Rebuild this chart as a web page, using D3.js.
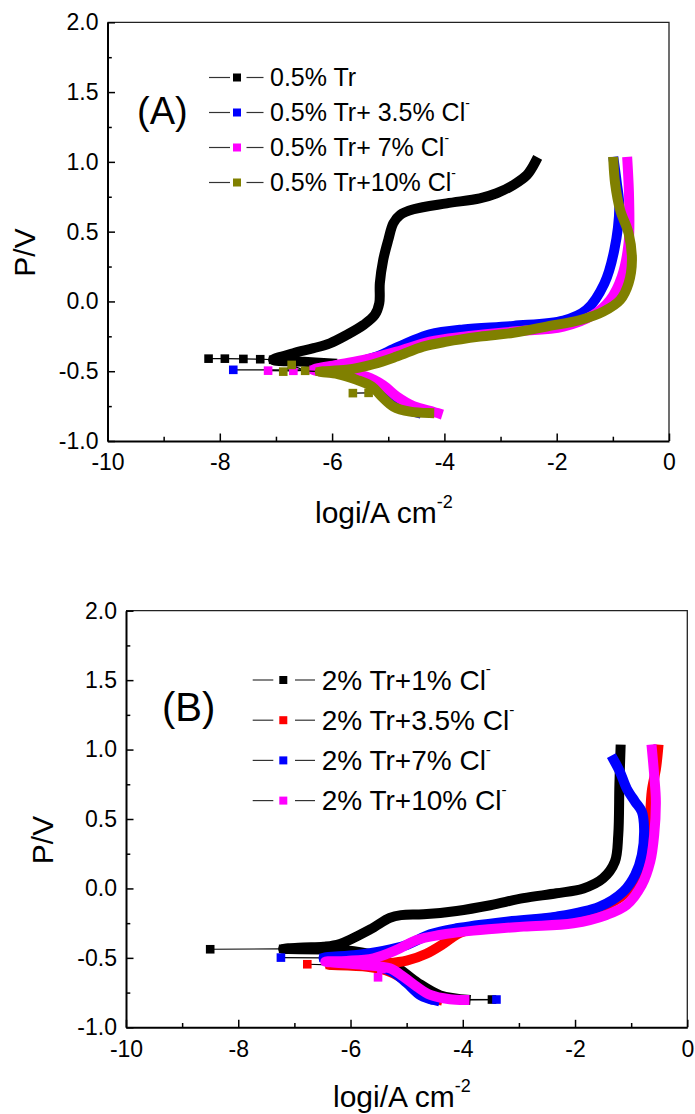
<!DOCTYPE html>
<html>
<head>
<meta charset="utf-8">
<script src="https://cdn.jsdelivr.net/npm/d3@7/dist/d3.min.js"></script>
<style>
  body { margin: 0; background: #fff; }
  svg text { font-family: "Liberation Sans", Arial, sans-serif; fill: #000; }
</style>
</head>
<body>
<svg id="fig" width="695" height="1114"></svg>
<script>
// axis ticks (both panels)
var xTicks = [-10, -8, -6, -4, -2, 0];
var xMinor = [-9, -7, -5, -3, -1];
var yTicks = [-1, -0.5, 0, 0.5, 1, 1.5, 2];
var yMinor = [-0.75, -0.25, 0.25, 0.75, 1.25, 1.75];

// legend texts
var labelsA = ["0.5% Tr", "0.5% Tr+ 3.5% Cl", "0.5% Tr+ 7% Cl", "0.5% Tr+10% Cl"];
var supA = ["", "-", "-", "-"];
var labelsB = ["2% Tr+1% Cl", "2% Tr+3.5% Cl", "2% Tr+7% Cl", "2% Tr+10% Cl"];
var supB = ["-", "-", "-", "-"];

// panel A : [log i, E], dense part of each curve
var curveA1 = [[-6.0,-0.445],[-6.5,-0.432],[-7.05,-0.418],[-6.69,-0.371],[-6.33,-0.335],[-6.04,-0.30],
  [-5.74,-0.24],[-5.44,-0.168],[-5.24,-0.097],[-5.16,-0.013],[-5.15,0.13],[-5.09,0.297],[-5.0,0.44],
  [-4.91,0.56],[-4.79,0.62],[-4.55,0.66],[-3.96,0.703],[-3.37,0.739],[-3.07,0.775],[-2.77,0.835],
  [-2.53,0.906],[-2.38,1.0]];
var curveA2 = [[-4.5,-0.795],[-4.75,-0.76],[-5.0,-0.68],[-5.15,-0.60],[-5.45,-0.545],[-5.8,-0.515],
  [-6.1,-0.49],[-5.62,-0.443],[-5.2,-0.395],[-4.91,-0.342],[-4.61,-0.288],[-4.26,-0.235],[-3.66,-0.2],
  [-2.77,-0.175],[-1.88,-0.137],[-1.47,-0.06],[-1.15,0.13],[-0.974,0.369],[-0.885,0.679],[-0.93,0.85],
  [-0.98,1.0]];
var curveA3 = [[-4.12,-0.80],[-4.2,-0.79],[-4.55,-0.75],[-4.85,-0.68],[-5.09,-0.60],[-5.38,-0.54],
  [-5.74,-0.52],[-6.33,-0.49],[-5.92,-0.455],[-5.38,-0.414],[-4.85,-0.36],[-4.26,-0.288],[-3.66,-0.252],
  [-2.77,-0.216],[-1.88,-0.18],[-1.35,-0.097],[-1.05,0.01],[-0.84,0.178],[-0.72,0.417],[-0.71,0.727],
  [-0.74,1.0]];
var curveA4 = [[-4.27,-0.80],[-4.61,-0.79],[-4.91,-0.753],[-5.12,-0.68],[-5.29,-0.61],[-5.56,-0.562],
  [-5.9,-0.52],[-6.22,-0.503],[-5.74,-0.49],[-5.27,-0.45],[-4.85,-0.395],[-4.38,-0.324],[-3.96,-0.288],
  [-3.37,-0.252],[-2.77,-0.224],[-2.18,-0.18],[-1.58,-0.133],[-1.17,-0.073],[-0.87,0.01],[-0.72,0.13],
  [-0.66,0.297],[-0.72,0.489],[-0.87,0.655],[-0.96,0.847],[-0.99,1.0]];
// isolated points near Ecorr (joined by the thin line)
var tailsA1 = [[[-8.2,-0.41],[-7.91,-0.41],[-7.58,-0.412],[-7.28,-0.414],[-7.05,-0.418]]];
var tailsA2 = [[[-7.76,-0.49],[-6.1,-0.49]]];
var tailsA3 = [[[-7.14,-0.496],[-6.69,-0.497],[-6.33,-0.49]]];
var tailsA4 = [[[-6.87,-0.503],[-6.72,-0.455],[-6.48,-0.497],[-6.22,-0.503]],[[-5.63,-0.657],[-5.35,-0.655]]];

// panel B
var curveB1 = [[-3.95,-0.80],[-4.4,-0.77],[-4.8,-0.68],[-5.2,-0.56],[-5.6,-0.48],[-6.1,-0.445],
  [-7.2,-0.435],[-6.84,-0.426],[-6.48,-0.42],[-6.19,-0.40],[-5.65,-0.295],[-5.30,-0.212],[-5.1,-0.192],
  [-4.70,-0.186],[-4.11,-0.162],[-3.51,-0.121],[-2.92,-0.07],[-2.33,-0.035],[-1.85,0.0],[-1.50,0.073],
  [-1.29,0.193],[-1.23,0.385],[-1.21,0.745],[-1.19,1.0]];
var curveB2 = [[-4.45,-0.80],[-4.75,-0.76],[-5.0,-0.67],[-5.3,-0.6],[-5.7,-0.565],[-6.37,-0.551],
  [-5.89,-0.55],[-5.35,-0.54],[-5.0,-0.52],[-4.65,-0.47],[-4.35,-0.40],[-4.1,-0.33],[-3.81,-0.29],
  [-2.92,-0.234],[-2.03,-0.191],[-1.50,-0.131],[-1.14,-0.047],[-0.90,0.073],[-0.753,0.217],
  [-0.677,0.433],[-0.634,0.697],[-0.557,0.865],[-0.52,1.0]];
var curveB3 = [[-4.5,-0.805],[-4.75,-0.77],[-5.0,-0.68],[-5.25,-0.6],[-5.6,-0.55],[-6.0,-0.52],
  [-6.48,-0.50],[-5.89,-0.479],[-5.42,-0.45],[-5.0,-0.407],[-4.58,-0.33],[-4.11,-0.287],[-3.22,-0.239],
  [-2.33,-0.203],[-1.56,-0.131],[-1.14,-0.023],[-0.93,0.097],[-0.81,0.241],[-0.77,0.433],[-0.81,0.553],
  [-0.93,0.625],[-1.08,0.72],[-1.20,0.84],[-1.31,0.925]];
var curveB4 = [[-3.97,-0.803],[-4.23,-0.798],[-4.58,-0.767],[-4.82,-0.707],[-5.06,-0.635],[-5.30,-0.575],
  [-5.77,-0.551],[-6.45,-0.527],[-6.07,-0.522],[-5.59,-0.503],[-5.18,-0.443],[-4.82,-0.371],[-4.41,-0.335],
  [-3.81,-0.304],[-2.92,-0.275],[-2.03,-0.251],[-1.44,-0.191],[-1.08,-0.119],[-0.81,0.025],[-0.66,0.193],
  [-0.59,0.385],[-0.56,0.625],[-0.59,0.817],[-0.63,1.0]];
var tailsB1 = [[[-8.5,-0.438],[-7.2,-0.435]],[[-3.95,-0.80],[-3.48,-0.80]]];
var tailsB2 = [[[-6.77,-0.546],[-6.37,-0.551]]];
var tailsB3 = [[[-7.24,-0.498],[-6.48,-0.50]],[[-4.5,-0.805],[-3.40,-0.80]]];
var tailsB4 = [[[-5.51,-0.64],[-5.45,-0.58]]];

var svg = d3.select("#fig");
svg.append("rect").attr("width", 695).attr("height", 1114).attr("fill", "#fff");

var panels = [
  {
    left: 107.5, right: 669, top: 22.3, bottom: 441,
    series: [
      {color: "#000000", curve: curveA1, tails: tailsA1},
      {color: "#0000ff", curve: curveA2, tails: tailsA2},
      {color: "#ff00ff", curve: curveA3, tails: tailsA3},
      {color: "#808000", curve: curveA4, tails: tailsA4}
    ],
    labels: labelsA, sups: supA,
    leg: {y0: 77.5, step: 35, x1: 209, x2: 230, sx: 237, x3: 246.5, x4: 263.5, tx: 270, fs: 25},
    tag: {text: "(A)", x: 137, y: 124, fs: 38},
    ytitle: {x: 35, y: 252.5},
    xtitle: {x: 315, y: 523}
  },
  {
    left: 126, right: 687.3, top: 610.7, bottom: 1027.3,
    series: [
      {color: "#000000", curve: curveB1, tails: tailsB1},
      {color: "#ff0000", curve: curveB2, tails: tailsB2},
      {color: "#0000ff", curve: curveB3, tails: tailsB3},
      {color: "#ff00ff", curve: curveB4, tails: tailsB4}
    ],
    labels: labelsB, sups: supB,
    leg: {y0: 680, step: 40.2, x1: 252.7, x2: 273.3, sx: 283.3, x3: 295, x4: 315, tx: 321.7, fs: 28},
    tag: {text: "(B)", x: 162, y: 721, fs: 40},
    ytitle: {x: 53, y: 840},
    xtitle: {x: 333, y: 1107}
  }
];

var drawPanel = function(p) {
  var x = d3.scaleLinear().domain([-10, 0]).range([p.left, p.right]);
  var y = d3.scaleLinear().domain([-1, 2]).range([p.bottom, p.top]);
  var g = svg.append("g");

  // thin top / right frame
  g.append("path")
    .attr("d", "M" + p.left + "," + p.top + "H" + p.right + "V" + p.bottom)
    .attr("fill", "none").attr("stroke", "#222").attr("stroke-width", 1.3);

  var thin = d3.line().x(function(d) { return x(d[0]); }).y(function(d) { return y(d[1]); });
  var band = d3.line().x(function(d) { return x(d[0]); }).y(function(d) { return y(d[1]); })
    .curve(d3.curveCatmullRom.alpha(0.5));

  p.series.forEach(function(s) {
    var sg = g.append("g");
    s.tails.forEach(function(t) {
      sg.append("path").attr("d", thin(t))
        .attr("fill", "none").attr("stroke", "#000").attr("stroke-width", 1.2);
    });
    sg.append("path").attr("d", band(s.curve))
      .attr("fill", "none").attr("stroke", s.color).attr("stroke-width", 10)
      .attr("stroke-linejoin", "round").attr("stroke-linecap", "square");
    s.tails.forEach(function(t) {
      sg.selectAll(null).data(t).enter().append("rect")
        .attr("x", function(d) { return x(d[0]) - 4.3; })
        .attr("y", function(d) { return y(d[1]) - 4.3; })
        .attr("width", 8.6).attr("height", 8.6)
        .attr("fill", s.color);
    });
  });

  /* axes */
  var yAxis = d3.axisLeft(y).tickValues(yTicks)
    .tickFormat(function(d) { return d.toFixed(1); })
    .tickSize(-7.5).tickSizeOuter(0).tickPadding(9);
  var yMin = d3.axisLeft(y).tickValues(yMinor).tickFormat("").tickSize(-4.3).tickSizeOuter(0);
  var xAxis = d3.axisBottom(x).tickValues(xTicks)
    .tickFormat(function(d) { return String(d); })
    .tickSize(-7.5).tickSizeOuter(0).tickPadding(13);
  var xMin = d3.axisBottom(x).tickValues(xMinor).tickFormat("").tickSize(-4.3).tickSizeOuter(0);

  var ya = g.append("g").attr("transform", "translate(" + p.left + ",0)").call(yAxis);
  var ym = g.append("g").attr("transform", "translate(" + p.left + ",0)").call(yMin);
  var xa = g.append("g").attr("transform", "translate(0," + p.bottom + ")").call(xAxis);
  var xm = g.append("g").attr("transform", "translate(0," + p.bottom + ")").call(xMin);
  [ym, xm].forEach(function(a) { a.select(".domain").remove(); });
  [ya, xa].forEach(function(a) {
    a.select(".domain").attr("stroke-width", 2);
    a.attr("font-size", 23).attr("font-family", null);
  });
  [ya, ym, xa, xm].forEach(function(a) {
    a.selectAll(".tick line").attr("stroke-width", 1.5);
  });

  /* legend */
  var L = p.leg;
  p.labels.forEach(function(lab, i) {
    var cy = L.y0 + i * L.step;
    var s = p.series[i];
    g.append("line").attr("x1", L.x1).attr("x2", L.x2).attr("y1", cy).attr("y2", cy)
      .attr("stroke", "#333").attr("stroke-width", 1.2);
    g.append("line").attr("x1", L.x3).attr("x2", L.x4).attr("y1", cy).attr("y2", cy)
      .attr("stroke", "#333").attr("stroke-width", 1.2);
    g.append("rect").attr("x", L.sx - 4).attr("y", cy - 4).attr("width", 8).attr("height", 8)
      .attr("fill", s.color);
    var t = g.append("text").attr("x", L.tx).attr("y", cy + L.fs * 0.35)
      .attr("font-size", L.fs).text(lab);
    if (p.sups[i]) {
      t.append("tspan").attr("font-size", L.fs * 0.55).attr("dy", -L.fs * 0.55).text(p.sups[i]);
    }
  });

  g.append("text").attr("x", p.tag.x).attr("y", p.tag.y)
    .attr("font-size", p.tag.fs).text(p.tag.text);

  g.append("text")
    .attr("transform", "translate(" + p.ytitle.x + "," + p.ytitle.y + ") rotate(-90)")
    .attr("text-anchor", "middle").attr("font-size", 30).text("P/V");

  var xt = g.append("text").attr("x", p.xtitle.x).attr("y", p.xtitle.y)
    .attr("font-size", 30).text("logi/A cm");
  xt.append("tspan").attr("font-size", 18).attr("dy", -15).text("-2");
};

panels.forEach(drawPanel);
</script>
</body>
</html>
